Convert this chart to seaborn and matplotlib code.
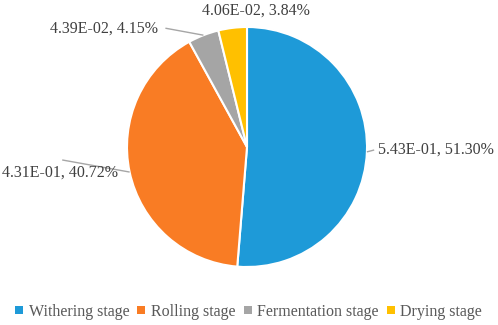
import numpy as np
import matplotlib
matplotlib.use("Agg")
import matplotlib.pyplot as plt
from matplotlib.lines import Line2D
import seaborn as sns

categories = ["Withering stage", "Rolling stage", "Fermentation stage", "Drying stage"]
values = [5.43e-01, 4.31e-01, 4.39e-02, 4.06e-02]
percents = [51.30, 40.72, 4.15, 3.84]
value_labels = ["5.43E-01", "4.31E-01", "4.39E-02", "4.06E-02"]
colors = ["#1E9AD8", "#F97C24", "#A5A5A5", "#FFC000"]

sns.set_theme(style="white")
plt.rcParams["font.family"] = ["Liberation Serif", "DejaVu Serif"]

W, H = 498, 325
fig = plt.figure(figsize=(W / 100, H / 100), dpi=100)
ax = fig.add_axes([0, 0, 1, 1])
cx, cy, scale = 247, 147, 120.0

wedges, _ = ax.pie(percents, colors=colors, startangle=90, counterclock=False,
                   radius=1.0, center=(0, 0), frame=True,
                   wedgeprops=dict(edgecolor="white", linewidth=1.5))
ax.set_xlim(-cx / scale, (W - cx) / scale)
ax.set_ylim(-(H - cy) / scale, cy / scale)
ax.set_aspect("auto")
ax.axis("off")

texts = [f"{v}, {p:.2f}%" for v, p in zip(value_labels, percents)]
tcolor = "#404040"
lcolor = "#A6A6A6"
fs = 11.5

# label placement: (text anchor x, y, ha, leader end x, y)
layout = [
    (1.09, -0.025, "left", 1.06, -0.025),
    (-1.075, -0.21, "right", -1.54, -0.108),
    (-0.74, 0.99, "right", -0.68, 0.99),
    (0.075, 1.14, "center", None, None),
]
for w, txt, (tx, ty, ha, lx, ly) in zip(wedges, texts, layout):
    mid = np.deg2rad((w.theta1 + w.theta2) / 2)
    ex, ey = np.cos(mid), np.sin(mid)
    ax.text(tx, ty, txt, ha=ha, va="center", fontsize=fs, color=tcolor)
    if lx is not None:
        ax.plot([ex, lx], [ey, ly], color=lcolor, lw=1.0, solid_capstyle="butt")

handles = [Line2D([], [], marker="s", linestyle="none", markersize=5.5,
                  markerfacecolor=c, markeredgewidth=0) for c in colors]
fig.legend(handles, categories, loc="center", bbox_to_anchor=(0.5, 1 - 312 / H),
           ncol=4, frameon=False, fontsize=fs, handlelength=0.4,
           handletextpad=0.4, columnspacing=0.55, labelcolor="#595959")

fig.savefig("out.png", dpi=100)
